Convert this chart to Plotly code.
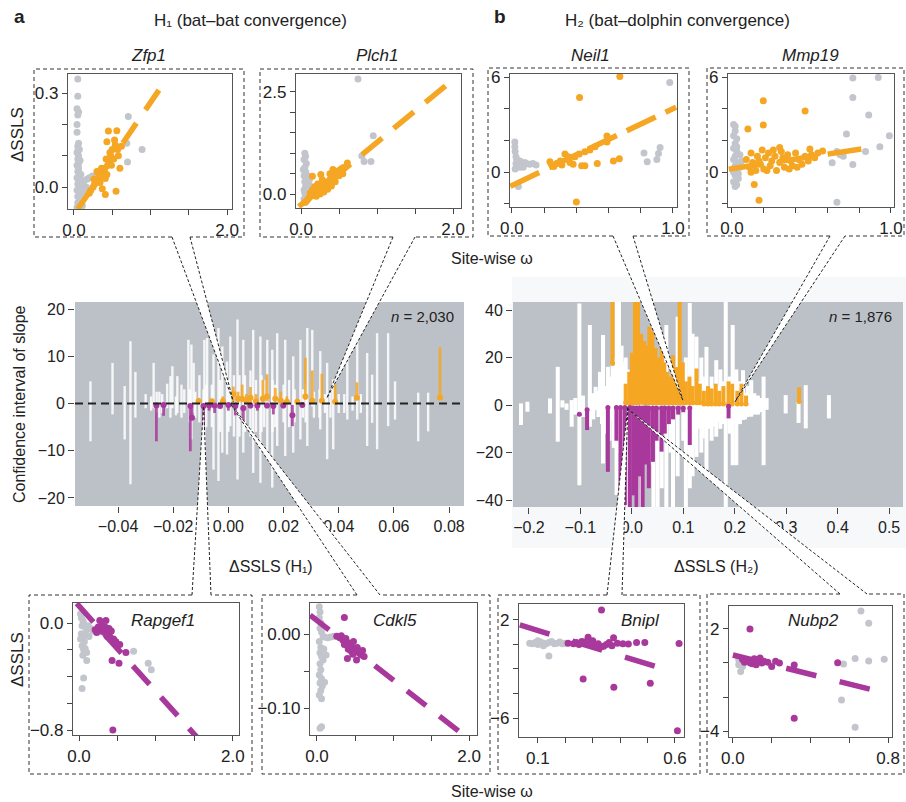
import plotly.graph_objects as go

W, H = 906, 802
FONT = "Liberation Sans, Arial, Helvetica, sans-serif"
ORANGE = "#F5A623"
PURPLE = "#A8389B"
GREYPT = "#C2C6CC"
PANELBG = "#BCC1C7"
INK = "#222222"

# ---------------- Panel a (H1): confidence intervals of slope ----------------
a_white_x = [-0.0500, -0.0420, -0.0376, -0.0355, -0.0337, -0.0300, -0.0280, -0.0271, -0.0250, -0.0240,
             -0.0222, -0.0210, -0.0203, -0.0190, -0.0185, -0.0170, -0.0160, -0.0145, -0.0134, -0.0126,
             -0.0120, -0.0105, -0.0090, -0.0087, -0.0077, -0.0060, -0.0054, -0.0036, -0.0030, -0.0022,
             -0.0005, 0.0000, 0.0007, 0.0020, 0.0033, 0.0054, 0.0060, 0.0090, 0.0100, 0.0116,
             0.0130, 0.0141, 0.0159, 0.0170, 0.0177, 0.0200, 0.0206, 0.0235, 0.0240, 0.0261,
             0.0270, 0.0286, 0.0304, 0.0310, 0.0333, 0.0350, 0.0358, 0.0380, 0.0400, 0.0431,
             0.0450, 0.0467, 0.0503, 0.0521, 0.0539, 0.0579, 0.0604, 0.0688, 0.0724,
             -0.0260, -0.0140, -0.0080, 0.0040, 0.0080, 0.0120, 0.0160, 0.0220, 0.0280, 0.0330,
             0.0370, 0.0420, 0.0480]
a_white_lo = [-8.0, -2.3, -7.6, -17.1, -3.0, -1.0, -1.5, -1.0, -3.0, -2.0,
              -1.0, -3.0, -1.0, -2.5, -2.0, -3.0, -2.0, -1.0, -7.6, -2.0,
              -3.0, -4.0, -4.0, -13.2, -1.0, -5.0, -14.0, -16.4, -6.0, -10.4,
              -10.8, -6.0, -4.8, -7.0, -16.1, -10.4, -6.0, -14.7, -6.0, -16.8,
              -5.0, -11.8, -17.8, -5.0, -9.0, -4.0, -11.1, -10.4, -4.0, -7.6,
              -3.0, -9.0, -0.6, -3.0, -5.5, -2.0, -11.8, -9.7, -2.0, -3.4,
              -1.5, -3.4, -9.0, -4.1, -9.7, -4.8, -3.4, -8.0, -5.9,
              -2.0, -4.0, -5.0, -7.0, -7.0, -6.0, -6.0, -5.0, -4.0, -3.0,
              -3.0, -2.0, -2.0]
a_white_hi = [4.7, 8.6, 3.7, 13.2, 6.7, 2.0, 1.5, 8.6, 2.5, 2.0,
              4.2, 5.8, 7.9, 1.5, 5.8, 4.0, 3.0, 13.5, 12.5, 8.6,
              2.5, 6.0, 3.0, 13.5, 13.9, 4.0, 10.4, 16.0, 5.0, 12.1,
              8.9, 5.0, 14.2, 6.0, 17.8, 13.5, 6.0, 15.6, 5.0, 14.2,
              5.0, 13.5, 11.4, 4.0, 14.9, 4.0, 13.5, 10.0, 3.0, 13.5,
              3.0, 16.0, 15.6, 2.5, 11.1, 2.0, 8.6, 5.1, 2.0, 10.0,
              1.5, 16.0, 10.7, 6.1, 14.9, 14.9, 4.7, 2.3, 2.3,
              2.5, 3.0, 4.0, 6.0, 7.0, 6.0, 5.0, 5.0, 4.0, 3.0,
              3.0, 2.0, 2.0]

a_orange_x = [-0.0108, -0.0060, -0.0020, 0.0018, 0.0035, 0.0050, 0.0065, 0.0080, 0.0100, 0.0125,
              0.0140, 0.0170, 0.0190, 0.0212, 0.0250, 0.0279, 0.0304, 0.0339, 0.0387, 0.0466, 0.0767]
a_orange_lo = [0.2, 0.2, 0.2, 0.4, 0.3, 0.3, 0.3, 0.2, 0.2, 0.3, 0.5, 0.4, 0.3, 0.2, 0.2, 0.8, 0.4, 0.3, 0.3, 1.0, 1.2]
a_orange_hi = [1.2, 1.0, 1.5, 3.6, 2.5, 4.0, 2.0, 3.5, 2.0, 5.0, 6.2, 3.3, 2.5, 1.5, 1.0, 9.7, 7.0, 6.3, 4.0, 4.5, 11.9]
a_orange_pt = [0.5, 0.5, 0.5, 2.0, 1.0, 1.0, 0.6, 1.2, 0.5, 1.0, 1.5, 1.0, 0.6, 0.4, 0.4, 1.5, 0.6, 0.6, 0.4, 1.2, 1.3]

a_purple_x = [-0.0261, -0.0235, -0.0138, -0.0132, -0.0090, -0.0070, -0.0050, -0.0030, 0.0000, 0.0025,
              0.0054, 0.0080, 0.0105, 0.0140, 0.0163, 0.0199, 0.0232, 0.0268]
a_purple_lo = [-8.0, -2.6, -10.1, -3.5, -5.5, -1.5, -2.0, -1.0, -1.5, -2.5, -4.1, -1.0, -1.5, -1.0, -2.3, -1.0, -4.8, -0.8]
a_purple_hi = [-0.3, -0.2, -0.3, -0.3, -0.3, -0.2, -0.2, -0.2, -0.2, -0.2, -0.3, -0.2, -0.2, -0.2, -0.2, -0.2, -0.3, -0.1]
a_purple_pt = [-0.4, -0.3, -0.5, -3.0, -0.5, -0.4, -0.4, -0.5, -0.3, -0.5, -1.0, -0.4, -0.4, -0.4, -0.5, -0.4, -2.5, -0.3]

# ---------------- Panel b (H2) ----------------
b_white_x = [-0.2155, -0.2030, -0.1590, -0.1440, -0.1350, -0.1270, -0.1170, -0.1100, -0.1020, -0.0950,
             -0.0816, -0.0750, -0.0705, -0.0650, -0.0620, -0.0560, -0.0500, -0.0466, -0.0400, -0.0375,
             -0.0297, -0.0250, -0.0200, -0.0169, -0.0080, 0.0030, 0.0100, 0.0200, 0.0350, 0.0420,
             0.0500, 0.0580, 0.0670, 0.0750, 0.0800, 0.0890, 0.1000, 0.1050, 0.1126, 0.1180,
             0.1256, 0.1350, 0.1450, 0.1550, 0.1640, 0.1720, 0.1825, 0.1900, 0.1960, 0.2030,
             0.2100, 0.2160, 0.2250, 0.2320, 0.2450, 0.2560, 0.2990, 0.3240, 0.3380, 0.3830,
             -0.0580, -0.0520, -0.0430, -0.0350, -0.0270, -0.0120, 0.1220, 0.1310, 0.1380, 0.1420,
             0.1500, 0.1580, 0.1680, 0.1760, 0.1860, 0.1990, 0.2070, 0.2200, 0.2280, 0.2380,
             0.2500, 0.2620]
b_white_lo = [-8.4, -2.8, -3.5, -15.4, -1.0, -2.0, -9.1, -4.0, -33.7, -5.0,
              -9.1, -6.0, -2.1, -5.0, -3.0, -24.6, -8.0, -5.0, -6.0, -1.0,
              -37.9, -15.0, -10.0, -20.0, -43.0, -30.0, -43.0, -43.0, -25.0, -43.0,
              -43.0, -35.0, -43.0, -20.0, -43.0, -30.0, -15.0, -43.0, -35.0, -30.0,
              -21.8, -20.0, -27.4, -15.0, -13.3, -10.0, -43.0, -12.0, -25.3, -25.3,
              -8.0, -6.3, -5.0, -4.9, -4.0, -25.3, -3.5, -7.5, -9.8, -5.6,
              -8.0, -12.0, -15.0, -18.0, -20.0, -30.0, -18.0, -10.0, -14.0, -8.0,
              -10.0, -9.0, -7.0, -8.0, -6.0, -7.0, -5.0, -6.0, -3.0, -4.0,
              -3.0, -2.0]
b_white_hi = [0.7, 1.4, 2.8, 16.1, 2.0, 0.7, 2.1, 3.0, 42.8, 4.0,
              33.7, 5.0, 7.7, 6.0, 14.0, 29.5, 8.0, 16.1, 10.0, 17.5,
              43.4, 43.4, 25.0, 18.2, 15.0, 20.0, 5.0, 10.0, 10.0, 5.0,
              8.0, 12.0, 33.7, 10.0, 15.0, 37.2, 8.0, 20.0, 43.0, 30.0,
              28.8, 20.0, 24.5, 12.0, 18.9, 15.0, 43.4, 12.0, 33.7, 15.0,
              10.0, 14.7, 8.0, 10.5, 4.0, 12.0, 4.2, 1.5, 8.4, 4.2,
              6.0, 8.0, 12.0, 20.0, 25.0, 20.0, 10.0, 10.0, 12.0, 6.0,
              8.0, 8.0, 9.0, 10.0, 8.0, 10.0, 7.0, 5.0, 4.0, 5.0,
              3.0, 3.0]

b_orange_x = [-0.0375, -0.0120, -0.0050, 0.0000, 0.0060, 0.0120, 0.0180, 0.0240, 0.0290, 0.0340,
              0.0400, 0.0460, 0.0520, 0.0580, 0.0630, 0.0680, 0.0740, 0.0800, 0.0860, 0.0930,
              0.0990, 0.1050, 0.1120, 0.1180, 0.1256, 0.1320, 0.1400, 0.1480, 0.1550, 0.1630,
              0.1700, 0.1780, 0.1880, 0.1950, 0.2050, 0.2130, 0.2220, 0.3250]
b_orange_lo = [17.5, 1.0, 1.0, 0.8, 1.0, 1.0, 1.2, 1.0, 1.0, 1.0,
               1.0, 1.0, 1.0, 1.0, 1.0, 1.0, 1.0, 1.0, 1.0, 1.0,
               1.0, 1.0, 1.0, 1.0, 1.0, 1.0, 0.5, 0.5, 0.5, 0.5,
               0.5, 0.5, 0.5, 0.5, 0.5, 0.5, 0.5, 1.5]
b_orange_hi = [43.4, 9.0, 14.0, 22.0, 43.4, 43.4, 30.0, 27.0, 25.0, 33.0,
               31.0, 24.0, 20.0, 26.0, 18.0, 14.0, 12.0, 21.0, 16.0, 43.4,
               18.0, 10.0, 12.0, 8.0, 15.4, 9.0, 6.0, 8.0, 7.0, 9.0,
               6.0, 8.0, 10.0, 9.0, 6.0, 9.0, 4.0, 7.5]

b_purple_x = [-0.1020, -0.0870, -0.0466, -0.0300, -0.0220, -0.0136, -0.0040, 0.0030, 0.0090, 0.0150,
              0.0210, 0.0270, 0.0330, 0.0410, 0.0480, 0.0577, 0.0640, 0.0720, 0.0800, 0.0900,
              0.1000, 0.1126, 0.1880]
b_purple_lo = [-4.5, -10.5, -28.1, -15.0, -43.0, -42.1, -43.0, -38.0, -43.0, -30.0,
               -43.0, -25.0, -35.0, -23.9, -15.0, -19.6, -12.0, -8.0, -6.0, -4.0,
               -3.0, -16.8, -5.6]
b_purple_hi = [-3.9, -2.0, -1.0, -1.0, -1.0, -1.0, -1.0, -1.2, -1.2, -1.2,
               -1.2, -1.2, -1.2, -1.2, -1.2, -1.2, -1.2, -1.2, -1.2, -1.2,
               -1.2, -1.2, -0.5]

# ---------------- Inset scatter data (site-wise omega vs delta SSLS) ----------------
zfp1_grey_x = [0.05, 0.05, 0.04, 0.06, 0.05, 0.04, 0.04, 0.06, 0.05, 0.07, 0.04, 0.06, 0.05, 0.08, 0.04, 0.06,
               0.05, 0.07, 0.09, 0.04, 0.06, 0.10, 0.13, 0.17, 0.20, 0.24, 0.27, 0.05, 0.08, 0.12, 0.16, 0.04,
               0.07, 0.10, 0.14, 0.05, 0.08, 0.12, 0.05, 0.09, 0.06, 0.11, 0.04, 0.06, 0.05, 0.07,
               0.71, 0.69, 0.89, 0.70]
zfp1_grey_y = [0.345, 0.29, 0.25, 0.24, 0.23, 0.20, 0.175, 0.14, 0.13, 0.12, 0.11, 0.10, 0.09, 0.085, 0.07, 0.06,
               0.05, 0.045, 0.04, 0.03, 0.025, 0.02, 0.02, 0.025, 0.03, 0.035, 0.03, 0.01, 0.0, 0.005, 0.0, -0.01,
               -0.02, -0.015, -0.02, -0.03, -0.04, -0.035, -0.05, -0.055, -0.06, -0.06, -0.065, 0.075, 0.115, 0.005,
               0.225, 0.14, 0.12, 0.08]
zfp1_col_x = [0.45, 0.56, 0.43, 0.54, 0.60, 0.30, 0.41, 0.37, 0.55, 0.41, 0.29, 0.48, 0.50, 0.52, 0.46, 0.44,
              0.40, 0.38, 0.35, 0.33, 0.30, 0.27, 0.25, 0.22, 0.20, 0.42, 0.47, 0.53, 0.57, 0.58, 0.36, 0.32,
              0.49, 0.43, 0.39, 0.26, 0.34, 0.62]
zfp1_col_y = [0.179, 0.18, 0.145, 0.134, 0.06, 0.05, 0.027, -0.005, -0.013, -0.024, 0.015, 0.10, 0.12, 0.09,
              0.08, 0.07, 0.06, 0.05, 0.04, 0.03, 0.02, 0.01, 0.0, -0.01, -0.02, 0.09, 0.11, 0.15, 0.12, 0.10,
              0.06, 0.045, 0.07, 0.04, 0.035, 0.025, 0.015, 0.13]

plch1_grey_x = [0.75, 0.95, 0.80, 0.83, 0.92, 0.05, 0.06, 0.04, 0.07, 0.05, 0.06, 0.04, 0.07, 0.05, 0.08, 0.06,
                0.04, 0.09, 0.05, 0.07, 0.04, 0.10, 0.12, 0.14, 0.06, 0.03, 0.09, 0.11]
plch1_grey_y = [2.82, 1.43, 0.93, 0.80, 0.80, 1.00, 0.92, 0.85, 0.75, 0.65, 0.55, 0.45, 0.38, 0.30, 0.25, 0.18,
                0.10, 0.12, 0.02, -0.05, -0.12, 0.05, 0.20, 0.10, -0.20, 0.60, 0.45, 0.35]
plch1_col_x = [0.61, 0.26, 0.15, 0.05, 0.08, 0.10, 0.13, 0.16, 0.18, 0.20, 0.22, 0.25, 0.27, 0.30, 0.32, 0.35,
               0.38, 0.40, 0.43, 0.45, 0.48, 0.50, 0.53, 0.56, 0.20, 0.25, 0.30, 0.35, 0.40, 0.45, 0.28, 0.33,
               0.18, 0.22, 0.38, 0.42, 0.50, 0.55, 0.15, 0.12]
plch1_col_y = [0.76, 0.48, 0.44, -0.20, -0.15, -0.10, -0.05, 0.0, 0.05, 0.10, 0.12, 0.15, 0.20, 0.22, 0.28, 0.30,
               0.35, 0.40, 0.42, 0.50, 0.55, 0.58, 0.62, 0.65, -0.05, 0.0, 0.05, 0.12, 0.20, 0.30, 0.35, 0.18,
               0.18, 0.25, 0.50, 0.60, 0.45, 0.50, 0.10, 0.02]

neil1_grey_x = [0.018, 0.018, 0.025, 0.025, 0.04, 0.09, 0.15, 0.02, 0.03, 0.05, 0.06, 0.08, 0.11, 0.13, 0.03, 0.05,
                0.02, 0.98, 0.92, 0.82, 0.84, 0.90, 0.91, 0.07]
neil1_grey_y = [1.9, 1.6, 0.97, 0.55, -0.9, 0.55, 0.45, 1.3, 0.8, 0.7, 0.5, 0.6, 0.5, 0.55, 0.4, 0.3,
                0.2, 5.65, 1.55, 1.2, 0.66, 0.8, 1.17, 0.3]
neil1_col_x = [0.67, 0.42, 0.40, 0.59, 0.59, 0.53, 0.63, 0.667, 0.236, 0.257, 0.277, 0.329, 0.35, 0.391, 0.418,
               0.433, 0.453, 0.453, 0.484, 0.516, 0.30, 0.36, 0.38, 0.26, 0.31]
neil1_col_y = [6.03, 4.7, -1.88, 2.28, 1.9, 0.55, 0.7, 0.85, 0.66, 0.41, 0.55, 1.14, 0.97, 0.97, 1.14,
               0.41, 0.41, 1.29, 1.39, 1.6, 0.7, 0.6, 0.5, 0.35, 0.45]

mmp19_grey_x = [0.01, 0.02, 0.01, 0.03, 0.02, 0.01, 0.03, 0.02, 0.01, 0.04, 0.02, 0.03, 0.01, 0.02, 0.04, 0.01,
                0.03, 0.02, 0.05, 0.05, 0.04, 0.06, 0.03, 0.02,
                0.76, 0.92, 0.76, 0.86, 0.99, 0.72, 0.66, 0.68, 0.70, 0.76, 0.63, 0.66, 0.93, 0.84]
mmp19_grey_y = [3.0, 2.6, 2.3, 2.1, 1.8, 1.5, 1.3, 1.0, 0.8, 0.6, 0.4, 0.2, 0.0, -0.2, -0.4, -0.6,
                -0.8, -0.9, 1.1, 0.3, -0.1, 0.7, 1.6, 2.9,
                5.93, 5.97, 4.7, 3.6, 2.3, 2.4, 1.3, 1.1, 1.0, 0.48, 0.59, -1.9, 1.6, 1.3]
mmp19_col_x = [0.197, 0.46, 0.10, 0.197, 0.17, 0.14, 0.30, 0.49, 0.57, 0.09, 0.11, 0.12, 0.13, 0.15, 0.16, 0.18,
               0.19, 0.20, 0.21, 0.23, 0.24, 0.25, 0.27, 0.28, 0.30, 0.32, 0.33, 0.35, 0.37, 0.38, 0.40, 0.42,
               0.44, 0.46, 0.48, 0.50, 0.52, 0.54, 0.12, 0.17, 0.22, 0.26, 0.31, 0.36, 0.41]
mmp19_col_y = [4.51, 3.86, 2.72, 2.97, -1.77, -0.78, 1.55, 1.46, 1.33, 0.8, 0.3, 1.2, 0.6, 0.1, 1.0, 0.5,
               1.4, 0.2, 0.9, 1.2, 0.4, 0.7, 1.0, 0.1, 0.6, 0.9, 0.3, 1.1, 0.7, 0.4, 1.2, 0.8,
               0.5, 1.0, 0.7, 1.1, 0.9, 1.2, 0.0, 0.7, 0.1, 1.4, 1.3, 0.2, 0.3]

rapgef1_grey_x = [0.02, 0.03, 0.05, 0.04, 0.06, 0.08, 0.10, 0.12, 0.15, 0.18, 0.03, 0.05, 0.07, 0.04, 0.06, 0.08,
                  0.10, 0.05, 0.10, 0.06, 0.04, 0.71, 0.90, 0.94, 0.13, 0.02, 0.09]
rapgef1_grey_y = [0.07, 0.04, 0.02, -0.02, 0.0, -0.03, -0.05, -0.02, -0.04, -0.06, -0.08, -0.11, -0.14, -0.17,
                  -0.20, -0.19, -0.22, -0.24, -0.28, -0.41, -0.49, -0.21, -0.30, -0.35, -0.10, -0.12, -0.09]
rapgef1_col_x = [0.44, 0.27, 0.35, 0.43, 0.52, 0.61, 0.53, 0.45, 0.21, 0.25, 0.28, 0.31, 0.33, 0.36, 0.38, 0.40,
                 0.42, 0.30, 0.37, 0.34, 0.48, 0.23, 0.39]
rapgef1_col_y = [-0.80, 0.02, 0.02, -0.28, -0.30, -0.22, -0.16, -0.12, -0.05, -0.03, -0.06, -0.04, -0.07, -0.05,
                 -0.08, -0.10, -0.06, -0.02, -0.10, -0.03, -0.14, -0.07, -0.04]

cdkl5_grey_x = [0.03, 0.04, 0.03, 0.05, 0.04, 0.06, 0.08, 0.10, 0.14, 0.18, 0.22, 0.03, 0.05, 0.04, 0.06, 0.08,
                0.04, 0.05, 0.03, 0.06, 0.04, 0.07, 0.05, 0.03, 0.06, 0.10, 0.09, 0.12, 0.04, 0.06]
cdkl5_grey_y = [0.037, 0.030, 0.022, 0.015, 0.008, 0.003, -0.003, -0.004, -0.005, -0.004, -0.003, -0.010, -0.018,
                -0.025, -0.030, -0.035, -0.040, -0.048, -0.055, -0.060, -0.066, -0.070, -0.076, -0.082, -0.087,
                -0.065, -0.020, -0.028, -0.127, -0.125]
cdkl5_col_x = [0.36, 0.32, 0.40, 0.52, 0.30, 0.34, 0.38, 0.42, 0.45, 0.48, 0.50, 0.55, 0.58, 0.62, 0.44, 0.47,
               0.36, 0.41, 0.53, 0.60, 0.26]
cdkl5_col_y = [0.0225, -0.002, -0.033, -0.035, -0.005, -0.008, -0.006, -0.012, -0.015, -0.010, -0.020, -0.025,
               -0.028, -0.030, -0.022, -0.027, -0.014, -0.020, -0.018, -0.022, -0.003]

bnipl_grey_x = [0.07, 0.08, 0.09, 0.10, 0.11, 0.12, 0.13, 0.14, 0.15, 0.16, 0.17, 0.18, 0.19, 0.14, 0.10, 0.12, 0.20]
bnipl_grey_y = [0.1, 0.05, 0.15, 0.0, 0.2, 0.1, 0.05, 0.15, 0.25, 0.05, 0.1, 0.2, 0.05, -0.94, 0.3, -0.1, 0.1]
bnipl_col_x = [0.332, 0.283, 0.376, 0.265, 0.377, 0.51, 0.609, 0.615, 0.46, 0.49, 0.43, 0.21, 0.23, 0.25, 0.27,
               0.29, 0.31, 0.33, 0.35, 0.37, 0.39, 0.41, 0.30, 0.26, 0.24, 0.32, 0.34, 0.36]
bnipl_col_y = [2.82, 0.59, 0.55, -2.82, -3.5, -3.16, -7.03, 0.08, 0.16, 0.16, 0.03, 0.1, 0.05, 0.0, 0.2,
               0.1, -0.1, -0.2, 0.0, -0.1, 0.1, 0.05, 0.3, 0.25, 0.15, 0.05, -0.15, 0.15]

nubp2_grey_x = [0.66, 0.70, 0.63, 0.70, 0.78, 0.57, 0.56, 0.63, 0.03, 0.04, 0.05, 0.04, 0.06, 0.03]
nubp2_grey_y = [3.06, 2.33, 0.27, 0.12, 0.22, -0.06, -2.18, -3.78, 0.2, 0.0, -0.2, -0.5, 0.1, -0.1]
nubp2_col_x = [0.088, 0.316, 0.316, 0.54, 0.05, 0.07, 0.09, 0.11, 0.12, 0.13, 0.14, 0.15, 0.16, 0.18, 0.20,
               0.22, 0.24, 0.10, 0.06]
nubp2_col_y = [2.0, -3.25, -0.12, 0.02, 0.2, 0.1, 0.0, 0.25, -0.1, 0.15, 0.3, 0.0, 0.1, 0.05, -0.2,
               0.1, 0.0, -0.05, 0.05]

# regression fits: slope, intercept, x start, x end
fit_slope = {"Zfp1": 0.358, "Plch1": 1.53, "Neil1": 4.85, "Mmp19": 1.52,
             "Rapgef1": -0.64, "Cdkl5": -0.080, "Bnipl": -6.83, "Nubp2": -2.84}
fit_icpt = {"Zfp1": -0.088, "Plch1": -0.26, "Neil1": -0.85, "Mmp19": 0.22,
            "Rapgef1": 0.128, "Cdkl5": 0.0184, "Bnipl": 1.82, "Nubp2": 0.47}
fit_x0 = {"Zfp1": 0.05, "Plch1": -0.03, "Neil1": -0.01, "Mmp19": -0.02,
          "Rapgef1": -0.03, "Cdkl5": -0.09, "Bnipl": 0.034, "Nubp2": 0.0}
fit_x1 = {"Zfp1": 1.21, "Plch1": 1.98, "Neil1": 1.02, "Mmp19": 0.91,
          "Rapgef1": 1.53, "Cdkl5": 1.91, "Bnipl": 0.54, "Nubp2": 0.725}

# position of each gene in the main panels (delta SSLS, slope)
gene_pos_x = {"Zfp1": 0.0018, "Plch1": 0.0358, "Neil1": 0.099, "Mmp19": 0.200,
              "Rapgef1": -0.0090, "Cdkl5": 0.0007, "Bnipl": -0.0078, "Nubp2": -0.0097}
gene_pos_y = {"Zfp1": 0.4, "Plch1": 1.27, "Neil1": 2.1, "Mmp19": 1.26,
              "Rapgef1": -0.4, "Cdkl5": 0.0, "Bnipl": -0.8, "Nubp2": -1.3}

# ---------------- layout geometry (pixels) ----------------
axes_geom = {
    1: ((75, 302, 464, 506), (-0.0556, 0.0854), (-21.7, 21.5)),
    2: ((513, 302, 903, 507), (-0.231, 0.527), (-42.9, 43.4)),
    3: ((68, 74, 232, 209), (-0.078, 2.065), (-0.070, 0.361)),
    4: ((296, 74, 461, 208), (-0.066, 2.105), (-0.34, 2.94)),
    5: ((510, 74, 677, 207), (-0.012, 1.025), (-2.2, 6.19)),
    6: ((728, 74, 894, 207), (-0.025, 1.019), (-2.2, 6.19)),
    7: ((73, 603, 239, 735), (-0.078, 2.08), (-0.837, 0.15)),
    8: ((310, 603, 477, 735), (-0.092, 2.105), (-0.136, 0.042)),
    9: ((519, 604, 684, 737), (0.031, 0.633), (-7.55, 3.3)),
    10: ((729, 606, 892, 737), (-0.02, 0.82), (-4.35, 3.35)),
}
gene_axis = {"Zfp1": 3, "Plch1": 4, "Neil1": 5, "Mmp19": 6, "Rapgef1": 7, "Cdkl5": 8, "Bnipl": 9, "Nubp2": 10}
gene_main = {"Zfp1": 1, "Plch1": 1, "Neil1": 2, "Mmp19": 2, "Rapgef1": 1, "Cdkl5": 1, "Bnipl": 2, "Nubp2": 2}
frames = {
    "Zfp1": (34, 69, 244, 237, 172, 190, "bottom"),
    "Plch1": (260, 69, 473, 237, 393, 415, "bottom"),
    "Neil1": (488, 68, 689, 236, 613, 633, "bottom"),
    "Mmp19": (707, 68, 904, 236, 830, 845, "bottom"),
    "Rapgef1": (29, 595, 252, 774, 192, 211, "top"),
    "Cdkl5": (262, 595, 490, 774, 357, 380, "top"),
    "Bnipl": (498, 595, 700, 774, 607, 622, "top"),
    "Nubp2": (707, 594, 904, 774, 840, 867, "top"),
}
fit_dash = {"Zfp1": "24px,16px", "Plch1": "26px,15px", "Neil1": "32px,11px", "Mmp19": "34px,16px",
            "Rapgef1": "25px,17px", "Cdkl5": "24px,17px", "Bnipl": "31px,24px", "Nubp2": "31px,24px"}
gene_color = {"Zfp1": ORANGE, "Plch1": ORANGE, "Neil1": ORANGE, "Mmp19": ORANGE,
              "Rapgef1": PURPLE, "Cdkl5": PURPLE, "Bnipl": PURPLE, "Nubp2": PURPLE}
gene_data = {
    "Zfp1": (zfp1_grey_x, zfp1_grey_y, zfp1_col_x, zfp1_col_y),
    "Plch1": (plch1_grey_x, plch1_grey_y, plch1_col_x, plch1_col_y),
    "Neil1": (neil1_grey_x, neil1_grey_y, neil1_col_x, neil1_col_y),
    "Mmp19": (mmp19_grey_x, mmp19_grey_y, mmp19_col_x, mmp19_col_y),
    "Rapgef1": (rapgef1_grey_x, rapgef1_grey_y, rapgef1_col_x, rapgef1_col_y),
    "Cdkl5": (cdkl5_grey_x, cdkl5_grey_y, cdkl5_col_x, cdkl5_col_y),
    "Bnipl": (bnipl_grey_x, bnipl_grey_y, bnipl_col_x, bnipl_col_y),
    "Nubp2": (nubp2_grey_x, nubp2_grey_y, nubp2_col_x, nubp2_col_y),
}
inset_xlab = {"Zfp1": ([0, 2], ["0.0", "2.0"]), "Plch1": ([0, 2], ["0.0", "2.0"]),
              "Neil1": ([0, 1], ["0.0", "1.0"]), "Mmp19": ([0, 1], ["0.0", "1.0"]),
              "Rapgef1": ([0, 2], ["0.0", "2.0"]), "Cdkl5": ([0, 2], ["0.0", "2.0"]),
              "Bnipl": ([0.1, 0.6], ["0.1", "0.6"]), "Nubp2": ([0, 0.8], ["0.0", "0.8"])}
inset_xminor = {"Zfp1": [0.5, 1, 1.5], "Plch1": [0.5, 1, 1.5], "Neil1": [0.2, 0.4, 0.6, 0.8],
                "Mmp19": [0.2, 0.4, 0.6, 0.8], "Rapgef1": [0.5, 1, 1.5], "Cdkl5": [0.5, 1, 1.5],
                "Bnipl": [0.2, 0.3, 0.4, 0.5], "Nubp2": [0.2, 0.4, 0.6]}
inset_ylab = {"Zfp1": ([0, 0.3], ["0.0", "0.3"]), "Plch1": ([0, 2.5], ["0.0", "2.5"]),
              "Neil1": ([0, 6], ["0", "6"]), "Mmp19": ([0, 6], ["0", "6"]),
              "Rapgef1": ([-0.8, 0], ["\u22120.8", "0.0"]), "Cdkl5": ([-0.10, 0.0], ["\u22120.10", "0.00"]),
              "Bnipl": ([-6, 2], ["\u22126", "2"]), "Nubp2": ([-4, 2], ["\u22124", "2"])}
inset_yminor = {"Zfp1": [0.1, 0.2], "Plch1": [0.5, 1, 1.5, 2], "Neil1": [-2, 2, 4], "Mmp19": [-2, 2, 4],
                "Rapgef1": [-0.6, -0.4, -0.2], "Cdkl5": [-0.05], "Bnipl": [-4, -2, 0], "Nubp2": [-2, 0]}


def suffix(i):
    return "" if i == 1 else str(i)


def segs(xs, lo, hi):
    X, Y = [], []
    for x, a, b in zip(xs, lo, hi):
        X += [x, x, None]
        Y += [a, b, None]
    return X, Y


def to_paper(ax, x, y):
    (l, t, r, b), xr, yr = axes_geom[ax]
    px = l + (x - xr[0]) / (xr[1] - xr[0]) * (r - l)
    py = b - (y - yr[0]) / (yr[1] - yr[0]) * (b - t)
    return px / W, 1 - py / H


def P(px, py):
    return px / W, 1 - py / H


fig = go.Figure()

# ---- main panel a ----
X, Y = segs(a_white_x, a_white_lo, a_white_hi)
fig.add_trace(go.Scatter(x=X, y=Y, mode="lines", line=dict(color="rgba(255,255,255,0.85)", width=2.4),
                         xaxis="x", yaxis="y", hoverinfo="skip"))
X, Y = segs(a_orange_x, a_orange_lo, a_orange_hi)
fig.add_trace(go.Scatter(x=X, y=Y, mode="lines", line=dict(color="rgba(245,166,35,0.85)", width=2.8),
                         xaxis="x", yaxis="y", hoverinfo="skip"))
X, Y = segs(a_purple_x, a_purple_lo, a_purple_hi)
fig.add_trace(go.Scatter(x=X, y=Y, mode="lines", line=dict(color="rgba(168,56,155,0.85)", width=2.8),
                         xaxis="x", yaxis="y", hoverinfo="skip"))
fig.add_trace(go.Scatter(x=a_orange_x, y=a_orange_pt, mode="markers", marker=dict(color=ORANGE, size=6),
                         xaxis="x", yaxis="y", hoverinfo="skip"))
fig.add_trace(go.Scatter(x=a_purple_x, y=a_purple_pt, mode="markers", marker=dict(color=PURPLE, size=6),
                         xaxis="x", yaxis="y", hoverinfo="skip"))

# ---- main panel b ----
X, Y = segs(b_white_x, b_white_lo, b_white_hi)
fig.add_trace(go.Scatter(x=X, y=Y, mode="lines", line=dict(color="white", width=4),
                         xaxis="x2", yaxis="y2", hoverinfo="skip"))
X, Y = segs(b_orange_x, b_orange_lo, b_orange_hi)
fig.add_trace(go.Scatter(x=X, y=Y, mode="lines", line=dict(color=ORANGE, width=4),
                         xaxis="x2", yaxis="y2", hoverinfo="skip"))
X, Y = segs(b_purple_x, b_purple_lo, b_purple_hi)
fig.add_trace(go.Scatter(x=X, y=Y, mode="lines", line=dict(color=PURPLE, width=4),
                         xaxis="x2", yaxis="y2", hoverinfo="skip"))
fig.add_trace(go.Scatter(x=b_orange_x, y=b_orange_lo, mode="markers", marker=dict(color=ORANGE, size=5),
                         xaxis="x2", yaxis="y2", hoverinfo="skip"))
fig.add_trace(go.Scatter(x=b_purple_x, y=b_purple_hi, mode="markers", marker=dict(color=PURPLE, size=5),
                         xaxis="x2", yaxis="y2", hoverinfo="skip"))

# ---- insets ----
for g, ax in gene_axis.items():
    gx, gy, cx, cy = gene_data[g]
    xa, ya = "x" + suffix(ax), "y" + suffix(ax)
    fig.add_trace(go.Scatter(x=gx, y=gy, mode="markers", marker=dict(color=GREYPT, size=7),
                             xaxis=xa, yaxis=ya, hoverinfo="skip"))
    fx = [fit_x0[g], fit_x1[g]]
    fy = [fit_slope[g] * v + fit_icpt[g] for v in fx]
    fig.add_trace(go.Scatter(x=fx, y=fy, mode="lines",
                             line=dict(color=gene_color[g], width=5.5, dash=fit_dash[g]),
                             xaxis=xa, yaxis=ya, hoverinfo="skip"))
    fig.add_trace(go.Scatter(x=cx, y=cy, mode="markers", marker=dict(color=gene_color[g], size=7),
                             xaxis=xa, yaxis=ya, hoverinfo="skip"))

# ---- axes ----
layout = dict(template="none", width=W, height=H, margin=dict(l=0, r=0, t=0, b=0, pad=0),
              showlegend=False, autosize=False,
              paper_bgcolor="white", plot_bgcolor="rgba(0,0,0,0)", font=dict(family=FONT, color=INK))
for ax, ((l, t, r, b), xr, yr) in axes_geom.items():
    s = suffix(ax)
    xd = [l / W, r / W]
    yd = [1 - b / H, 1 - t / H]
    common = dict(showgrid=False, zeroline=False, ticks="outside", tickcolor="#444",
                  tickwidth=1, fixedrange=True, automargin=False)
    if ax in (1, 2):
        xa = dict(domain=xd, range=list(xr), anchor="y" + s, showline=False, ticklen=6,
                  tickfont=dict(size=16, family=FONT, color=INK), **common)
        ya = dict(domain=yd, range=list(yr), anchor="x" + s, showline=False, ticklen=6,
                  tickfont=dict(size=16, family=FONT, color=INK), **common)
        if ax == 1:
            xa.update(tickvals=[-0.04, -0.02, 0, 0.02, 0.04, 0.06, 0.08],
                      ticktext=["\u22120.04", "\u22120.02", "0.00", "0.02", "0.04", "0.06", "0.08"])
            ya.update(tickvals=[-20, -10, 0, 10, 20], ticktext=["\u221220", "\u221210", "0", "10", "20"])
        else:
            xa.update(tickvals=[-0.2, -0.1, 0, 0.1, 0.2, 0.3, 0.4, 0.5],
                      ticktext=["\u22120.2", "\u22120.1", "0.0", "0.1", "0.2", "0.3", "0.4", "0.5"])
            ya.update(tickvals=[-40, -20, 0, 20, 40], ticktext=["\u221240", "\u221220", "0", "20", "40"])
    else:
        g = [k for k, v in gene_axis.items() if v == ax][0]
        xt, xtt = inset_xlab[g]
        yt, ytt = inset_ylab[g]
        xa = dict(domain=xd, range=list(xr), anchor="y" + s, showline=True, mirror=True,
                  linecolor="#555", linewidth=1.3, ticklen=5, tickvals=xt, ticktext=xtt,
                  minor=dict(tickvals=inset_xminor[g], ticks="outside", ticklen=5, tickcolor="#444",
                             showgrid=False),
                  tickfont=dict(size=17, family=FONT, color=INK), **common)
        ya = dict(domain=yd, range=list(yr), anchor="x" + s, showline=True, mirror=True,
                  linecolor="#555", linewidth=1.3, ticklen=5, tickvals=yt, ticktext=ytt,
                  minor=dict(tickvals=inset_yminor[g], ticks="outside", ticklen=5, tickcolor="#444",
                             showgrid=False),
                  tickfont=dict(size=17, family=FONT, color=INK), **common)
    layout["xaxis" + s] = xa
    layout["yaxis" + s] = ya
fig.update_layout(**layout)

# ---- shapes ----
shapes = []
x0, y0 = P(512, 277)
x1, y1 = P(906, 548)
shapes.append(dict(type="rect", xref="paper", yref="paper", x0=x0, y0=y1, x1=x1, y1=y0,
                   fillcolor="#F6F8FA", line=dict(width=0), layer="below"))
for s in ("", "2"):
    shapes.append(dict(type="rect", xref="x" + s + " domain", yref="y" + s + " domain", x0=0, x1=1, y0=0, y1=1,
                       fillcolor=PANELBG, line=dict(width=0), layer="below"))
for ax in range(3, 11):
    s = suffix(ax)
    shapes.append(dict(type="rect", xref="x" + s + " domain", yref="y" + s + " domain", x0=0, x1=1, y0=0, y1=1,
                       fillcolor="white", line=dict(width=0), layer="below"))
shapes.append(dict(type="line", xref="x domain", yref="y", x0=0, x1=1, y0=0, y1=0,
                   line=dict(color=INK, width=2, dash="8px,5px"), layer="above"))

for g, (l, t, r, b, gl, gr, side) in frames.items():
    edge = b if side == "bottom" else t
    other = t if side == "bottom" else b
    vx, vy = to_paper(gene_main[g], gene_pos_x[g], gene_pos_y[g])
    glx, gey = P(gl, edge)
    grx, _ = P(gr, edge)
    shapes.append(dict(type="path", xref="paper", yref="paper",
                       path=f"M {glx},{gey} L {vx},{vy} L {grx},{gey} Z",
                       fillcolor="white", line=dict(width=0), layer="above"))
    for gx in (glx, grx):
        shapes.append(dict(type="line", xref="paper", yref="paper", x0=gx, y0=gey, x1=vx, y1=vy,
                           line=dict(color=INK, width=1, dash="3px,2px"), layer="above"))
    lx, ey = P(l, edge)
    rx, oy = P(r, other)
    shapes.append(dict(type="path", xref="paper", yref="paper",
                       path=f"M {glx},{ey} L {lx},{ey} L {lx},{oy} L {rx},{oy} L {rx},{ey} L {grx},{ey}",
                       line=dict(color="#333", width=1, dash="4px,3px"), layer="above"))
fig.update_layout(shapes=shapes)

# ---- annotations ----
anns = []


def ann(text, px, py, size=16, xanchor="center", yanchor="middle", angle=0):
    x, y = P(px, py)
    anns.append(dict(text=text, x=x, y=y, xref="paper", yref="paper", showarrow=False,
                     xanchor=xanchor, yanchor=yanchor, textangle=angle,
                     font=dict(family=FONT, size=size, color=INK)))


ann("<b>a</b>", 12, 17, size=19, xanchor="left")
ann("<b>b</b>", 492, 17, size=19, xanchor="left")
ann("H\u2081 (bat\u2013bat convergence)", 250, 21, size=17)
ann("H\u2082 (bat\u2013dolphin convergence)", 677, 21, size=17)
ann("<i>Zfp1</i>", 148, 55, size=17)
ann("<i>Plch1</i>", 377, 55, size=17)
ann("<i>Neil1</i>", 590, 55, size=17)
ann("<i>Mmp19</i>", 810, 55, size=17)
ann("\u0394SSLS", 17, 135, size=17, angle=-90)
ann("\u0394SSLS", 17, 660, size=17, angle=-90)
ann("Site-wise \u03c9", 492, 258, size=16)
ann("Site-wise \u03c9", 492, 791, size=16)
ann("Confidence interval of slope", 19, 404, size=16, angle=-90)
ann("\u0394SSLS (H\u2081)", 271, 566, size=16)
ann("\u0394SSLS (H\u2082)", 716, 566, size=16)
ann("<i>n</i> = 2,030", 456, 316, size=15, xanchor="right")
ann("<i>n</i> = 1,876", 894, 316, size=15, xanchor="right")
ann("<i>Rapgef1</i>", 163, 620, size=17)
ann("<i>Cdkl5</i>", 395, 620, size=17)
ann("<i>Bnipl</i>", 640, 620, size=17)
ann("<i>Nubp2</i>", 813, 620, size=17)
fig.update_layout(annotations=anns)

fig.write_html("out.html", config={"displayModeBar": False},
               post_script="document.body.style.margin='0px';document.body.style.padding='0px';"
                           "document.body.style.overflow='hidden';")
